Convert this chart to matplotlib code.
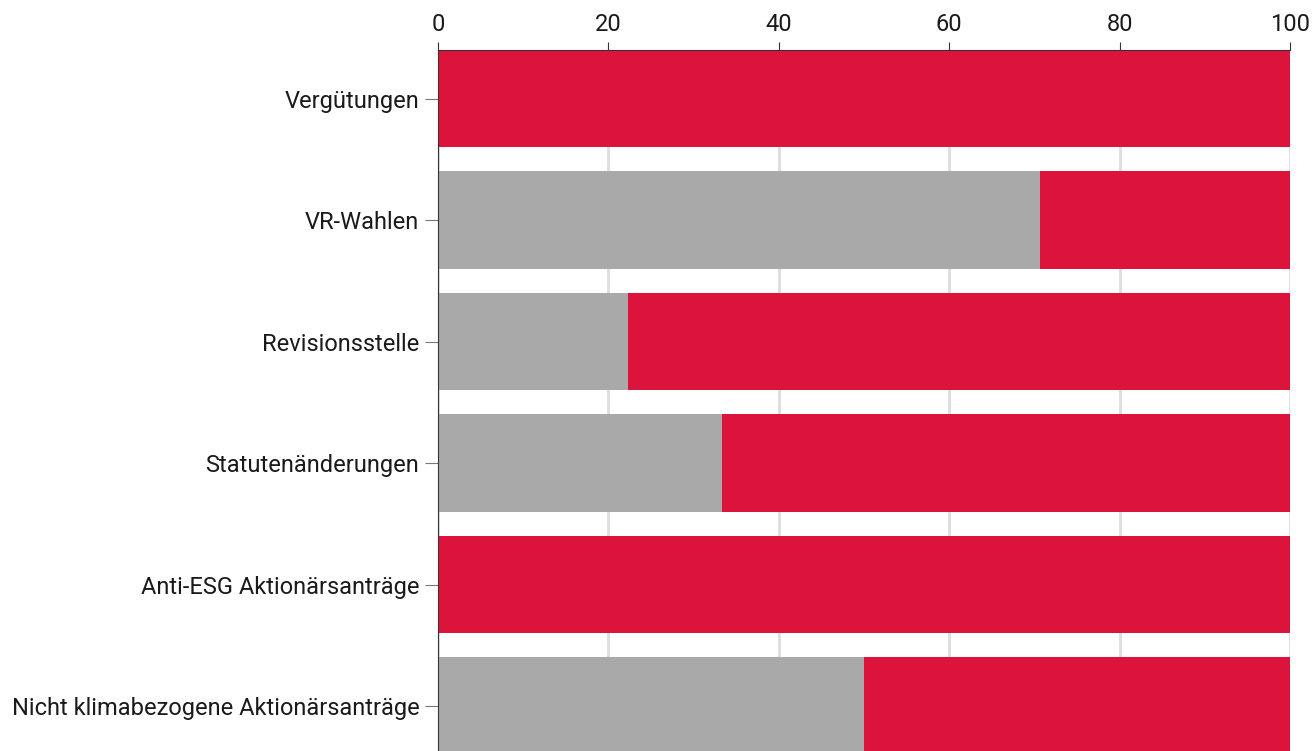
import matplotlib
matplotlib.use("Agg")
import matplotlib.pyplot as plt
import numpy as np

categories = [
    "Vergütungen",
    "VR-Wahlen",
    "Revisionsstelle",
    "Statutenänderungen",
    "Anti-ESG Aktionärsanträge",
    "Nicht klimabezogene Aktionärsanträge",
]
gray_vals = [0, 70.7, 22.3, 33.3, 0, 50.0]
red_vals = [100 - g for g in gray_vals]
xticks = [0, 20, 40, 60, 80, 100]

plt.rcParams["font.family"] = ["Roboto", "DejaVu Sans"]

fig = plt.figure(figsize=(13.14, 7.51), dpi=100)
ax = fig.add_axes([438 / 1314, 0, (1290 - 438) / 1314, 1 - 50 / 751])

ys = np.arange(len(categories))
ax.barh(ys, gray_vals, height=0.8, color="#a9a9a9", zorder=2)
ax.barh(ys, red_vals, left=gray_vals, height=0.8, color="#dc143c", zorder=2)

ax.set_xlim(0, 100)
ax.set_ylim(5.37, -0.4)
ax.set_xticks(xticks)
ax.set_yticks(ys)
ax.set_yticklabels(categories)
ax.xaxis.tick_top()
ax.grid(axis="x", color="#dddddd", linewidth=2, zorder=0)
ax.set_axisbelow(True)

ax.spines[["right", "bottom"]].set_visible(False)
ax.spines["top"].set_color("#333333")
ax.spines["left"].set_color("#333333")
ax.tick_params(axis="x", length=6, color="#333333", labelsize=17, pad=4, labelcolor="#1a1a1a")
ax.tick_params(axis="y", length=9.5, color="#777777", labelsize=17, pad=4, labelcolor="#1a1a1a")

fig.savefig("out.png", dpi=100)
